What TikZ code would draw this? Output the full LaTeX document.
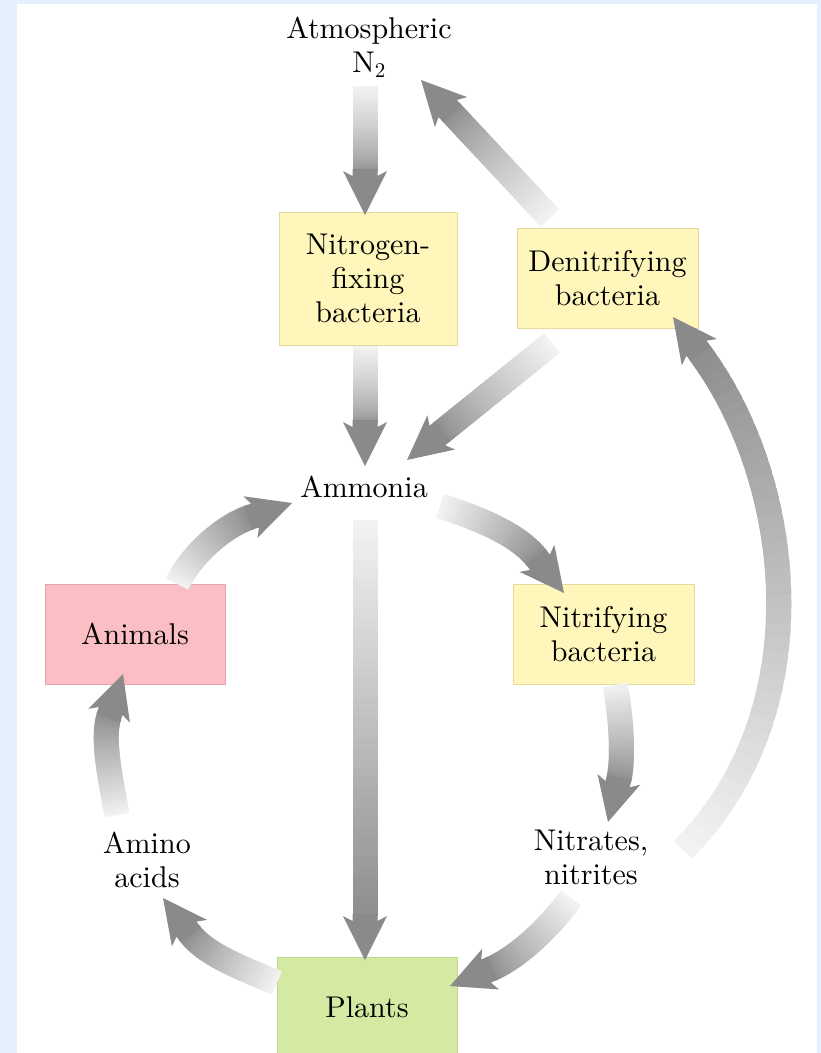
\documentclass[tikz,border=0pt]{standalone}
\usepackage{fontspec}
\setmainfont{lmroman10-regular.otf}[BoldFont=lmroman10-bold.otf, ItalicFont=lmroman10-italic.otf]
\usetikzlibrary{calc}
\definecolor{bgblue}{RGB}{228,240,252}
\definecolor{tailc}{RGB}{242,242,242}
\definecolor{headc}{RGB}{138,138,138}
\definecolor{yel}{RGB}{254,246,186}
\definecolor{yelb}{RGB}{228,218,158}
\definecolor{pinkf}{RGB}{250,190,196}
\definecolor{pinkb}{RGB}{232,162,170}
\definecolor{greenf}{RGB}{212,233,162}
\definecolor{greenb}{RGB}{192,214,142}

% gradient arrow: tail, control 1, control 2, tip
\newcommand\garrow[4]{%
  \coordinate (gbase) at ($(#4)!44pt!(#3)$);
  \foreach \i in {0,...,39}{%
    \pgfmathsetmacro\ta{\i/40}%
    \pgfmathsetmacro\tb{min(1,(\i+1.8)/40)}%
    \pgfmathtruncatemacro\mixp{round(95*\i/39)}%
    \path (#1) .. controls (#2) and (#3) .. (gbase) coordinate[pos=\ta] (gA) coordinate[pos=\tb] (gB);
    \draw[shaft, draw=headc!\mixp!tailc] (gA) -- (gB);
  }%
  \path let \p1=($(#4)-(#3)$), \n1={atan2(\y1,\x1)} in \pgfextra{\xdef\hang{\n1}};
  \fill[headc, shift={(gbase)}, rotate=\hang] (44,0) -- (0,22) -- (5,12.5) -- (-2,12.5) -- (-2,-12.5) -- (5,-12.5) -- (0,-22) -- cycle;
}
\newcommand\gline[2]{%
  \coordinate (gcA) at ($(#1)!0.3!(#2)$);
  \coordinate (gcB) at ($(#1)!0.6!(#2)$);
  \garrow{#1}{gcA}{gcB}{#2}}

\begin{document}
\begin{tikzpicture}[x=1pt,y=-1pt,
  shaft/.style={line width=25pt},
  lbl/.style={font=\fontsize{30}{34}\selectfont, align=center, inner sep=0pt, text=black},
  box/.style={lbl, draw, line width=0.8pt, minimum width=180pt, minimum height=100pt}]
\useasboundingbox (0,0) rectangle (821,1053);
\fill[bgblue] (0,0) rectangle (821,1053);
\fill[white] (17,4) rectangle (817,1060);

% nodes
\node[lbl] (atm) at (369,47) {Atmospheric\\N\textsubscript{2}};
\node[box, fill=yel, draw=yelb, minimum width=178pt, minimum height=133pt] (nfix) at (368,278.5) {Nitrogen-\\fixing\\bacteria};
\node[box, fill=yel, draw=yelb, minimum width=181pt] (denit) at (607.5,278) {Denitrifying\\bacteria};
\node[lbl] (amm) at (364,487) {Ammonia};
\node[box, fill=yel, draw=yelb, minimum width=181pt] (nitr) at (603.5,634) {Nitrifying\\bacteria};
\node[box, fill=pinkf, draw=pinkb] (anim) at (135,634) {Animals};
\node[lbl] (amino) at (147,860) {Amino\\acids};
\node[lbl] (nitrates) at (591,857) {Nitrates,\\nitrites};
\node[box, fill=greenf, draw=greenb] (plants) at (367,1007) {Plants};

% connector end points
\coordinate (atmT) at (365,86);    \coordinate (nfixH) at (365,215);
\coordinate (denT) at (550,218);   \coordinate (atmH) at (421,80);
\coordinate (nfixT) at (365,346);  \coordinate (ammH) at (365,466);
\coordinate (denT2) at (552,343);  \coordinate (ammH2) at (407,460);
\coordinate (ammT) at (365,520);   \coordinate (plantsH) at (365,960);
\coordinate (ammT2) at (440,506);  \coordinate (nitrH) at (564,593);
\coordinate (animT) at (177,584);  \coordinate (ammH3) at (292,503);
\coordinate (aminoT) at (117,815); \coordinate (animH) at (123,674);
\coordinate (plantsT) at (277,983);\coordinate (aminoH) at (163,898);
\coordinate (nitrT) at (615,685);  \coordinate (nitratesH) at (608,822);
\coordinate (nitratesT) at (683,850); \coordinate (denH) at (673,317);
\coordinate (nitratesT2) at (571,898); \coordinate (plantsH2) at (450,986);

% connectors
\gline{atmT}{nfixH}
\gline{denT}{atmH}
\gline{nfixT}{ammH}
\gline{denT2}{ammH2}
\gline{ammT}{plantsH}
\garrow{ammT2}{478,518}{518,534}{nitrH}
\garrow{animT}{190,557}{221,527}{ammH3}
\garrow{aminoT}{112,785}{101,740}{animH}
\garrow{plantsT}{242,968}{206,955}{aminoH}
\garrow{nitrT}{621,715}{624,759}{nitratesH}
\garrow{nitratesT}{823,710}{793,477}{denH}
\garrow{nitratesT2}{548,930}{515,959}{plantsH2}
\end{tikzpicture}
\end{document}
